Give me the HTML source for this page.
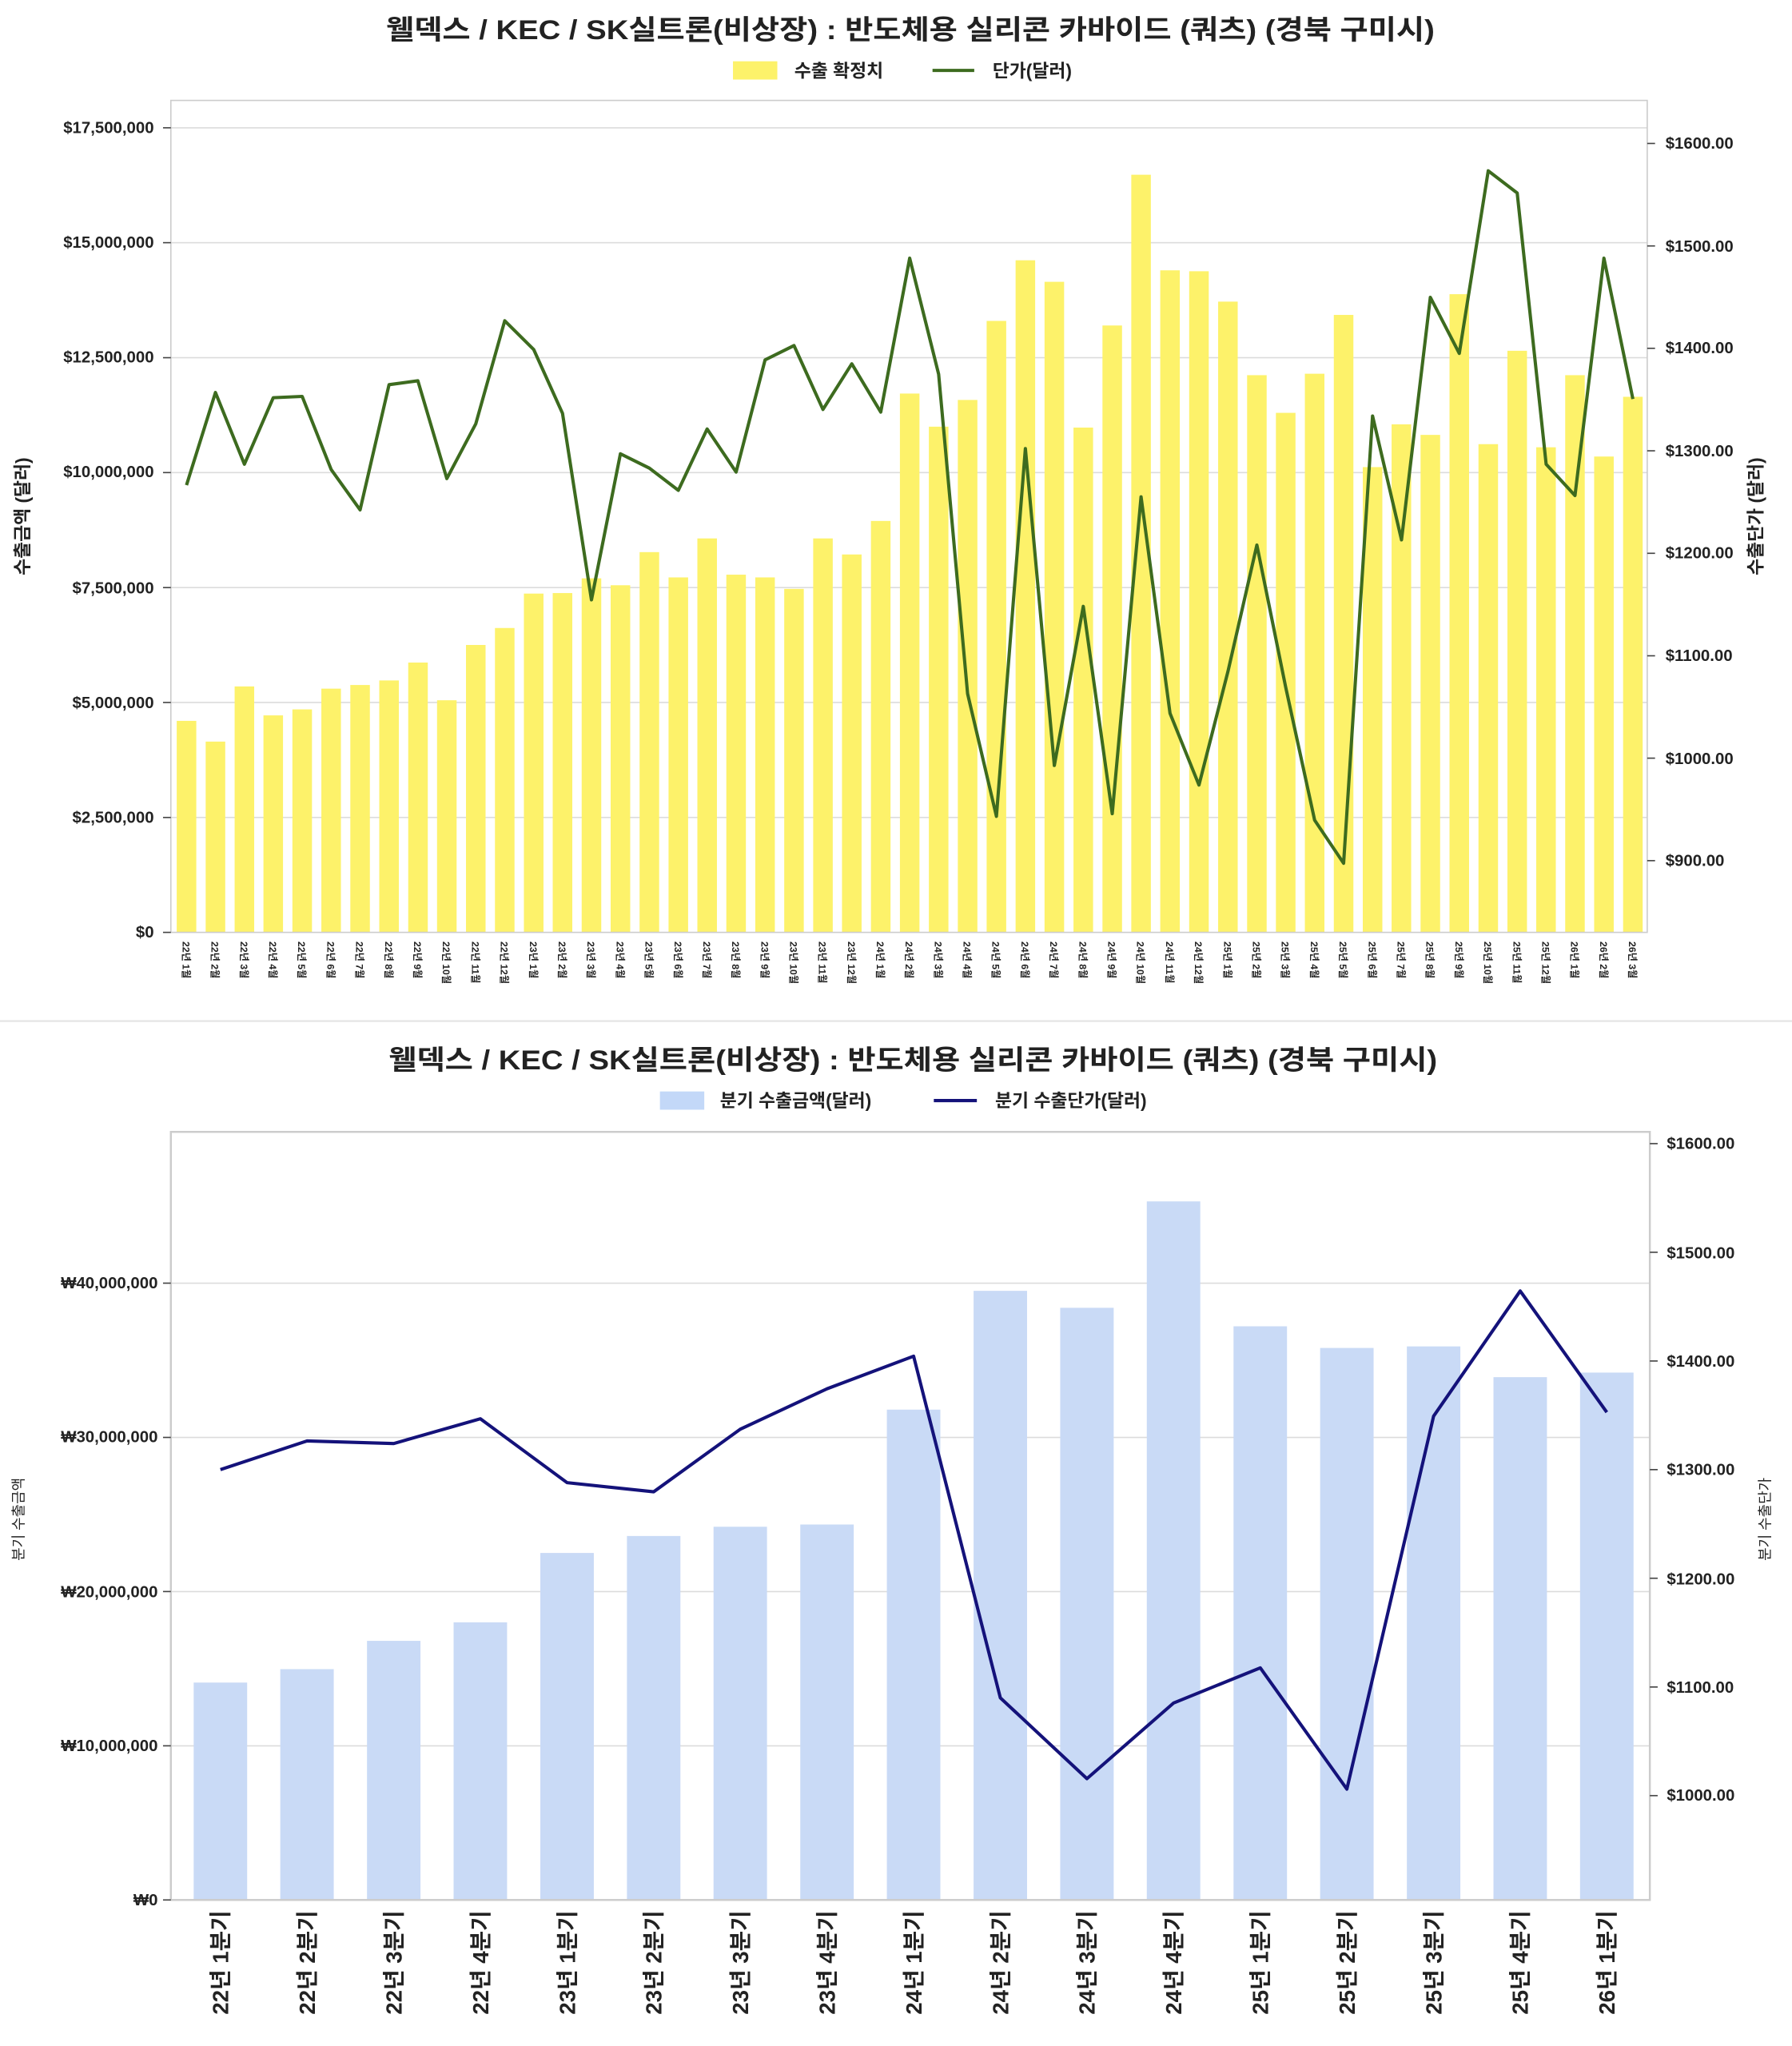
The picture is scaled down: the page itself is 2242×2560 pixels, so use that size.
<!DOCTYPE html>
<html><head><meta charset="utf-8"><style>
html,body{margin:0;padding:0;background:#fff;}
svg{display:block;}
text{font-family:"Liberation Sans","Noto Sans CJK KR",sans-serif;fill:#222;}
</style></head><body>
<svg width="2242" height="2560" viewBox="0 0 1374 1569" preserveAspectRatio="none">
<rect width="1374" height="1569" fill="#fff"/>
<!-- TOP CHART -->
<text x="698" y="30" text-anchor="middle" font-size="21" font-weight="bold" textLength="804" lengthAdjust="spacingAndGlyphs">웰덱스 / KEC / SK실트론(비상장) : 반도체용 실리콘 카바이드 (쿼츠) (경북 구미시)</text>
<rect x="562" y="47" width="34" height="14" fill="#fdf26a"/>
<text x="609" y="59" font-size="14" font-weight="bold">수출 확정치</text>
<line x1="715" y1="54" x2="747" y2="54" stroke="#3d6b1f" stroke-width="2.5"/>
<text x="761" y="59" font-size="14" font-weight="bold">단가(달러)</text>
<g stroke="#dcdcdc" stroke-width="1">
<line x1="131" x2="1263" y1="98" y2="98"/><line x1="131" x2="1263" y1="186.1" y2="186.1"/><line x1="131" x2="1263" y1="274.3" y2="274.3"/><line x1="131" x2="1263" y1="362.4" y2="362.4"/><line x1="131" x2="1263" y1="450.6" y2="450.6"/><line x1="131" x2="1263" y1="538.7" y2="538.7"/><line x1="131" x2="1263" y1="626.9" y2="626.9"/>
</g>
<g transform="translate(0,715) scale(1,-1)" fill="#fdf26a">
<rect x="135.5" width="15" y="0" height="162.2"/><rect x="157.7" width="15" y="0" height="146.3"/><rect x="179.9" width="15" y="0" height="188.6"/><rect x="202.0" width="15" y="0" height="166.4"/><rect x="224.2" width="15" y="0" height="171.0"/><rect x="246.4" width="15" y="0" height="186.9"/><rect x="268.6" width="15" y="0" height="189.7"/><rect x="290.8" width="15" y="0" height="193.2"/><rect x="313.0" width="15" y="0" height="206.9"/><rect x="335.1" width="15" y="0" height="178.0"/><rect x="357.3" width="15" y="0" height="220.4"/><rect x="379.5" width="15" y="0" height="233.4"/><rect x="401.7" width="15" y="0" height="259.8"/><rect x="423.8" width="15" y="0" height="260.2"/><rect x="446.0" width="15" y="0" height="271.5"/><rect x="468.2" width="15" y="0" height="266.2"/><rect x="490.4" width="15" y="0" height="291.6"/><rect x="512.6" width="15" y="0" height="272.2"/><rect x="534.7" width="15" y="0" height="302.1"/><rect x="556.9" width="15" y="0" height="274.3"/><rect x="579.1" width="15" y="0" height="272.2"/><rect x="601.3" width="15" y="0" height="263.4"/><rect x="623.5" width="15" y="0" height="302.1"/><rect x="645.6" width="15" y="0" height="289.8"/><rect x="667.8" width="15" y="0" height="315.5"/><rect x="690.0" width="15" y="0" height="413.2"/><rect x="712.2" width="15" y="0" height="387.8"/><rect x="734.4" width="15" y="0" height="408.3"/><rect x="756.5" width="15" y="0" height="468.9"/><rect x="778.7" width="15" y="0" height="515.4"/><rect x="800.9" width="15" y="0" height="498.9"/><rect x="823.1" width="15" y="0" height="387.1"/><rect x="845.3" width="15" y="0" height="465.4"/><rect x="867.4" width="15" y="0" height="581.0"/><rect x="889.6" width="15" y="0" height="507.7"/><rect x="911.8" width="15" y="0" height="507.0"/><rect x="934.0" width="15" y="0" height="483.7"/><rect x="956.2" width="15" y="0" height="427.3"/><rect x="978.3" width="15" y="0" height="398.4"/><rect x="1000.5" width="15" y="0" height="428.4"/><rect x="1022.7" width="15" y="0" height="473.5"/><rect x="1044.9" width="15" y="0" height="356.8"/><rect x="1067.0" width="15" y="0" height="389.6"/><rect x="1089.2" width="15" y="0" height="381.5"/><rect x="1111.4" width="15" y="0" height="489.4"/><rect x="1133.6" width="15" y="0" height="374.4"/><rect x="1155.8" width="15" y="0" height="446.0"/><rect x="1177.9" width="15" y="0" height="372.0"/><rect x="1200.1" width="15" y="0" height="427.3"/><rect x="1222.3" width="15" y="0" height="364.9"/><rect x="1244.5" width="15" y="0" height="410.7"/>
</g>
<polyline fill="none" stroke="#3d6b1f" stroke-width="2.5" stroke-linejoin="round" points="143,372 165.2,301 187.4,356 209.5,305 231.7,304 253.9,360 276.1,391 298.3,295 320.4,292 342.6,367 364.8,325 387,246 409.2,268 431.3,317 453.5,460 475.7,348 497.9,359 520.1,376 542.2,329 564.4,362 586.6,276 608.8,265 631,314 653.1,279 675.3,316 697.5,198 719.7,287 741.9,532 764,626 786.2,344 808.4,587 830.6,465 852.8,624 874.9,381 897.1,547 919.3,602 941.5,515 963.7,418 985.8,527 1008,629 1030.2,662 1052.4,319 1074.6,414 1096.7,228 1118.9,271 1141.1,131 1163.3,148 1185.5,356 1207.6,380 1229.8,198 1252,306"/>
<rect x="131" y="77" width="1132" height="638" fill="none" stroke="#cccccc" stroke-width="1"/>
<g font-size="12.5" font-weight="bold" text-anchor="end">
<text x="118" y="102">$17,500,000</text><text x="118" y="190">$15,000,000</text><text x="118" y="278">$12,500,000</text><text x="118" y="366">$10,000,000</text><text x="118" y="455">$7,500,000</text><text x="118" y="543">$5,000,000</text><text x="118" y="631">$2,500,000</text><text x="118" y="719">$0</text>
</g>
<g stroke="#444" stroke-width="1"><line x1="125" x2="131" y1="98" y2="98"/><line x1="125" x2="131" y1="186.1" y2="186.1"/><line x1="125" x2="131" y1="274.3" y2="274.3"/><line x1="125" x2="131" y1="362.4" y2="362.4"/><line x1="125" x2="131" y1="450.6" y2="450.6"/><line x1="125" x2="131" y1="538.7" y2="538.7"/><line x1="125" x2="131" y1="626.9" y2="626.9"/><line x1="125" x2="131" y1="715" y2="715"/>
<line x1="1263" x2="1269" y1="110" y2="110"/><line x1="1263" x2="1269" y1="188.6" y2="188.6"/><line x1="1263" x2="1269" y1="267.1" y2="267.1"/><line x1="1263" x2="1269" y1="345.7" y2="345.7"/><line x1="1263" x2="1269" y1="424.3" y2="424.3"/><line x1="1263" x2="1269" y1="502.9" y2="502.9"/><line x1="1263" x2="1269" y1="581.4" y2="581.4"/><line x1="1263" x2="1269" y1="660" y2="660"/></g>
<g font-size="12.5" font-weight="bold">
<text x="1277" y="114">$1600.00</text><text x="1277" y="193">$1500.00</text><text x="1277" y="271">$1400.00</text><text x="1277" y="350">$1300.00</text><text x="1277" y="428">$1200.00</text><text x="1277" y="507">$1100.00</text><text x="1277" y="586">$1000.00</text><text x="1277" y="664">$900.00</text>
</g>
<text transform="translate(22,396) rotate(-90)" text-anchor="middle" font-size="14" font-weight="bold">수출금액 (달러)</text>
<text transform="translate(1351,396) rotate(-90)" text-anchor="middle" font-size="14" font-weight="bold">수출단가 (달러)</text>
<g font-size="7.5" font-weight="bold">
<text transform="translate(140,722) rotate(90)">22년 1월</text><text transform="translate(162.2,722) rotate(90)">22년 2월</text><text transform="translate(184.4,722) rotate(90)">22년 3월</text><text transform="translate(206.5,722) rotate(90)">22년 4월</text><text transform="translate(228.7,722) rotate(90)">22년 5월</text><text transform="translate(250.9,722) rotate(90)">22년 6월</text><text transform="translate(273.1,722) rotate(90)">22년 7월</text><text transform="translate(295.3,722) rotate(90)">22년 8월</text><text transform="translate(317.4,722) rotate(90)">22년 9월</text><text transform="translate(339.6,722) rotate(90)">22년 10월</text><text transform="translate(361.8,722) rotate(90)">22년 11월</text><text transform="translate(384,722) rotate(90)">22년 12월</text><text transform="translate(406.2,722) rotate(90)">23년 1월</text><text transform="translate(428.3,722) rotate(90)">23년 2월</text><text transform="translate(450.5,722) rotate(90)">23년 3월</text><text transform="translate(472.7,722) rotate(90)">23년 4월</text><text transform="translate(494.9,722) rotate(90)">23년 5월</text><text transform="translate(517.1,722) rotate(90)">23년 6월</text><text transform="translate(539.2,722) rotate(90)">23년 7월</text><text transform="translate(561.4,722) rotate(90)">23년 8월</text><text transform="translate(583.6,722) rotate(90)">23년 9월</text><text transform="translate(605.8,722) rotate(90)">23년 10월</text><text transform="translate(628,722) rotate(90)">23년 11월</text><text transform="translate(650.1,722) rotate(90)">23년 12월</text><text transform="translate(672.3,722) rotate(90)">24년 1월</text><text transform="translate(694.5,722) rotate(90)">24년 2월</text><text transform="translate(716.7,722) rotate(90)">24년 3월</text><text transform="translate(738.9,722) rotate(90)">24년 4월</text><text transform="translate(761,722) rotate(90)">24년 5월</text><text transform="translate(783.2,722) rotate(90)">24년 6월</text><text transform="translate(805.4,722) rotate(90)">24년 7월</text><text transform="translate(827.6,722) rotate(90)">24년 8월</text><text transform="translate(849.8,722) rotate(90)">24년 9월</text><text transform="translate(871.9,722) rotate(90)">24년 10월</text><text transform="translate(894.1,722) rotate(90)">24년 11월</text><text transform="translate(916.3,722) rotate(90)">24년 12월</text><text transform="translate(938.5,722) rotate(90)">25년 1월</text><text transform="translate(960.7,722) rotate(90)">25년 2월</text><text transform="translate(982.8,722) rotate(90)">25년 3월</text><text transform="translate(1005,722) rotate(90)">25년 4월</text><text transform="translate(1027.2,722) rotate(90)">25년 5월</text><text transform="translate(1049.4,722) rotate(90)">25년 6월</text><text transform="translate(1071.6,722) rotate(90)">25년 7월</text><text transform="translate(1093.7,722) rotate(90)">25년 8월</text><text transform="translate(1115.9,722) rotate(90)">25년 9월</text><text transform="translate(1138.1,722) rotate(90)">25년 10월</text><text transform="translate(1160.3,722) rotate(90)">25년 11월</text><text transform="translate(1182.5,722) rotate(90)">25년 12월</text><text transform="translate(1204.6,722) rotate(90)">26년 1월</text><text transform="translate(1226.8,722) rotate(90)">26년 2월</text><text transform="translate(1249,722) rotate(90)">26년 3월</text>
</g>
<line x1="0" x2="1374" y1="783" y2="783" stroke="#e6e6e6" stroke-width="1.5"/>
<!-- BOTTOM CHART -->
<text x="700" y="820" text-anchor="middle" font-size="21" font-weight="bold" textLength="804" lengthAdjust="spacingAndGlyphs">웰덱스 / KEC / SK실트론(비상장) : 반도체용 실리콘 카바이드 (쿼츠) (경북 구미시)</text>
<rect x="506" y="837" width="34" height="14" fill="#c3d8f8"/>
<text x="552" y="849" font-size="14" font-weight="bold">분기 수출금액(달러)</text>
<line x1="716" y1="844" x2="749" y2="844" stroke="#14127a" stroke-width="2.5"/>
<text x="763" y="849" font-size="14" font-weight="bold">분기 수출단가(달러)</text>
<g stroke="#dcdcdc" stroke-width="1">
<line x1="131" x2="1265" y1="984" y2="984"/><line x1="131" x2="1265" y1="1102.3" y2="1102.3"/><line x1="131" x2="1265" y1="1220.5" y2="1220.5"/><line x1="131" x2="1265" y1="1338.8" y2="1338.8"/>
</g>
<g transform="translate(0,1457) scale(1,-1)" fill="#c9daf6">
<rect x="148.5" width="41" y="0" height="166.7"/><rect x="214.9" width="41" y="0" height="177.0"/><rect x="281.4" width="41" y="0" height="198.7"/><rect x="347.8" width="41" y="0" height="212.9"/><rect x="414.3" width="41" y="0" height="266.1"/><rect x="480.7" width="41" y="0" height="279.1"/><rect x="547.1" width="41" y="0" height="286.2"/><rect x="613.6" width="41" y="0" height="287.9"/><rect x="680" width="41" y="0" height="376.0"/><rect x="746.5" width="41" y="0" height="467.1"/><rect x="812.9" width="41" y="0" height="454.1"/><rect x="879.3" width="41" y="0" height="535.7"/><rect x="945.8" width="41" y="0" height="439.9"/><rect x="1012.2" width="41" y="0" height="423.3"/><rect x="1078.7" width="41" y="0" height="424.5"/><rect x="1145.1" width="41" y="0" height="400.9"/><rect x="1211.5" width="41" y="0" height="404.4"/>
</g>
<polyline fill="none" stroke="#14127a" stroke-width="2.5" stroke-linejoin="round" points="169,1127 235.4,1105 301.9,1107 368.3,1088 434.8,1137 501.2,1144 567.6,1096 634.1,1065 700.5,1040 767,1302 833.4,1364 899.8,1306 966.3,1279 1032.7,1372 1099.2,1086 1165.6,990 1232,1083"/>
<rect x="131" y="868" width="1134" height="589" fill="none" stroke="#cccccc" stroke-width="1.5"/>
<g stroke="#444" stroke-width="1"><line x1="125" x2="131" y1="984" y2="984"/><line x1="125" x2="131" y1="1102.3" y2="1102.3"/><line x1="125" x2="131" y1="1220.5" y2="1220.5"/><line x1="125" x2="131" y1="1338.8" y2="1338.8"/><line x1="125" x2="131" y1="1457" y2="1457"/>
<line x1="1265" x2="1271" y1="877" y2="877"/><line x1="1265" x2="1271" y1="960.3" y2="960.3"/><line x1="1265" x2="1271" y1="1043.7" y2="1043.7"/><line x1="1265" x2="1271" y1="1127" y2="1127"/><line x1="1265" x2="1271" y1="1210.3" y2="1210.3"/><line x1="1265" x2="1271" y1="1293.7" y2="1293.7"/><line x1="1265" x2="1271" y1="1377" y2="1377"/></g>
<g font-size="12.5" font-weight="bold" text-anchor="end">
<text x="121" y="988">₩40,000,000</text><text x="121" y="1106">₩30,000,000</text><text x="121" y="1225">₩20,000,000</text><text x="121" y="1343">₩10,000,000</text><text x="121" y="1461">₩0</text>
</g>
<g font-size="12.5" font-weight="bold">
<text x="1278" y="881">$1600.00</text><text x="1278" y="965">$1500.00</text><text x="1278" y="1048">$1400.00</text><text x="1278" y="1131">$1300.00</text><text x="1278" y="1215">$1200.00</text><text x="1278" y="1298">$1100.00</text><text x="1278" y="1381">$1000.00</text>
</g>
<text transform="translate(18,1165) rotate(-90)" text-anchor="middle" font-size="11">분기 수출금액</text>
<text transform="translate(1357,1165) rotate(-90)" text-anchor="middle" font-size="11">분기 수출단가</text>
<g font-size="17" font-weight="bold" text-anchor="end">
<text transform="translate(175,1465) rotate(-90)">22년 1분기</text><text transform="translate(241.4,1465) rotate(-90)">22년 2분기</text><text transform="translate(307.9,1465) rotate(-90)">22년 3분기</text><text transform="translate(374.3,1465) rotate(-90)">22년 4분기</text><text transform="translate(440.8,1465) rotate(-90)">23년 1분기</text><text transform="translate(507.2,1465) rotate(-90)">23년 2분기</text><text transform="translate(573.6,1465) rotate(-90)">23년 3분기</text><text transform="translate(640.1,1465) rotate(-90)">23년 4분기</text><text transform="translate(706.5,1465) rotate(-90)">24년 1분기</text><text transform="translate(773,1465) rotate(-90)">24년 2분기</text><text transform="translate(839.4,1465) rotate(-90)">24년 3분기</text><text transform="translate(905.8,1465) rotate(-90)">24년 4분기</text><text transform="translate(972.3,1465) rotate(-90)">25년 1분기</text><text transform="translate(1038.7,1465) rotate(-90)">25년 2분기</text><text transform="translate(1105.2,1465) rotate(-90)">25년 3분기</text><text transform="translate(1171.6,1465) rotate(-90)">25년 4분기</text><text transform="translate(1238,1465) rotate(-90)">26년 1분기</text>
</g>
</svg>
</body></html>
